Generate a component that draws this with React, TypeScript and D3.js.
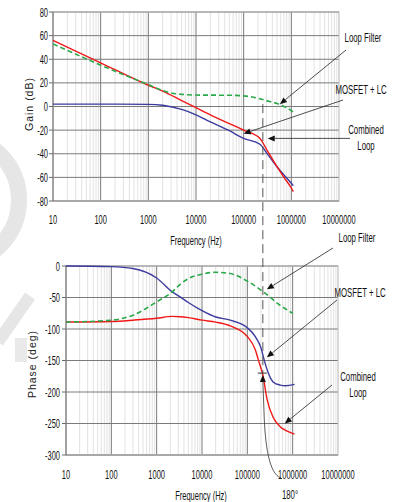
import React from "react";
import * as d3 from "d3";

// ---------- data ----------
const gainFreq = [10, 100, 1000, 2000, 5000, 1e4, 2e4, 5e4, 1e5, 2.2e5, 3e5, 5e5, 7e5, 1e6, 1.1e6];
const gainCombined = [56, 37, 18, 13, 5, -1, -7, -14.5, -20, -27, -36, -51, -60, -69, -72];
const gainMosfet = [2, 2, 1.8, 1, -2.5, -7, -13, -20.5, -27, -32, -39, -51, -58, -65, -67];
const gainFilterFreq = [10, 100, 1000, 2000, 3000, 5000, 1e4, 5e4, 1e5, 2e5, 3e5, 5e5, 7e5, 1e6, 1.2e6];
const gainFilter = [53, 35, 18.5, 13.5, 11.5, 10.3, 9.7, 9.5, 9, 7, 5, 2.5, 0, -3.5, -6];

const phaseFreq = [10, 100, 300, 1000, 2200, 3300, 5000, 1e4, 2e4, 4.2e4, 1e5, 1.5e5, 1.75e5, 2.2e5, 2.75e5, 3.7e5, 5.3e5, 7e5, 1.1e6];
const phaseCombined = [-89, -88, -86, -83, -80, -80.5, -82, -86, -89, -95, -112, -133, -149, -173, -213, -240, -255, -261, -267];
const phaseMosfetFreq = [10, 100, 300, 1000, 2200, 3300, 5000, 1e4, 2e4, 4.2e4, 1e5, 1.5e5, 2e5, 2.35e5, 2.9e5, 3.7e5, 5.3e5, 7e5, 1.1e6];
const phaseMosfet = [0, -1, -4, -19, -41, -49, -58, -71, -81, -86, -98, -112, -130, -149, -170, -184, -189, -190, -188];
const phaseFilterFreq = [10, 100, 300, 1000, 2200, 3300, 5000, 1e4, 2e4, 4.2e4, 1e5, 2.45e5, 5.2e5, 1e6];
const phaseFilter = [-89, -86, -78, -57, -41, -29, -20, -13, -10, -12, -24, -43, -62, -75];

const xTickValues = [10, 100, 1000, 10000, 100000, 1000000, 10000000];
const gainTicks = [80, 60, 40, 20, 0, -20, -40, -60, -80];
const phaseTicks = [0, -50, -100, -150, -200, -250, -300];

const crossFreq = 2.2e5;
const crossPhase = -170;
const crossGain = 2;

// ---------- layout ----------
const W = 396;
const H = 502;
const FONT = "'Liberation Sans', Arial, sans-serif";
const SX = 0.6;

const xTop = d3.scaleLog().domain([10, 1e7]).range([53, 339]);
const yTop = d3.scaleLinear().domain([-80, 80]).range([201, 12]);
const xBot = d3.scaleLog().domain([10, 1e7]).range([66, 338]);
const yBot = d3.scaleLinear().domain([-300, 0]).range([455, 266]);

const minorFreqs: number[] = [];
for (let d = 10; d < 1e7; d *= 10) for (let k = 2; k <= 9; k++) minorFreqs.push(k * d);

const RED = "#f01818";
const BLUE = "#3b3b9e";
const GREEN = "#2aa84a";

function T({ x, y, children, anchor = "middle", size = 12.5 }: any) {
  return (
    <text
      transform={`translate(${x},${y}) scale(${SX},1)`}
      textAnchor={anchor}
      fontFamily={FONT}
      fontSize={size}
      fill="#111"
    >
      {children}
    </text>
  );
}

function Arrow({ x1, y1, x2, y2 }: any) {
  const ang = Math.atan2(y2 - y1, x2 - x1);
  const L = 7, Wd = 3;
  const bx = x2 - L * Math.cos(ang), by = y2 - L * Math.sin(ang);
  const px = -Math.sin(ang) * Wd, py = Math.cos(ang) * Wd;
  return (
    <g>
      <line x1={x1} y1={y1} x2={bx} y2={by} stroke="#222" strokeWidth={0.8} />
      <path d={`M${x2},${y2}L${bx + px},${by + py}L${bx - px},${by - py}Z`} fill="#111" />
    </g>
  );
}

function Panel({ x, y, yTicks, tickLabelRight, freqLabelY, freqLabelX }: any) {
  const [x0, x1] = x.range();
  const [yb, yt] = y.range();
  return (
    <g>
      {minorFreqs.map((f) => (
        <line key={"m" + f} x1={x(f)} x2={x(f)} y1={yt} y2={yb} stroke="#dadada" strokeWidth={0.8} />
      ))}
      {xTickValues.slice(1, -1).map((f) => (
        <line key={"M" + f} x1={x(f)} x2={x(f)} y1={yt} y2={yb} stroke="#7a7a7a" strokeWidth={1} />
      ))}
      {yTicks.map((v: number) => (
        <line key={"h" + v} x1={x0} x2={x1} y1={y(v)} y2={y(v)} stroke="#7a7a7a" strokeWidth={1} />
      ))}
      <rect x={x0} y={yt} width={x1 - x0} height={yb - yt} fill="none" stroke="#b4b4b4" strokeWidth={1} />
      <line x1={x0} x2={x1} y1={yb} y2={yb} stroke="#a8a8a8" strokeWidth={2} />
      <line x1={x0} x2={x0} y1={yt} y2={yb} stroke="#6a6a6a" strokeWidth={1} />
      {yTicks.map((v: number) => (
        <g key={"t" + v}>
          <line x1={x0 - 4} x2={x0} y1={y(v)} y2={y(v)} stroke="#6a6a6a" />
          <T x={tickLabelRight} y={y(v) + 4.5} anchor="end">{String(v)}</T>
        </g>
      ))}
      {xTickValues.map((f) => (
        <T key={"xl" + f} x={x(f)} y={freqLabelY}>{String(f)}</T>
      ))}
      <T x={freqLabelX} y={freqLabelY + 21}>Frequency (Hz)</T>
    </g>
  );
}

function curve(xs: number[], ys: number[], x: any, y: any) {
  const pts = xs.map((f, i) => [f, ys[i]] as [number, number]);
  return d3
    .line<[number, number]>()
    .x((d) => x(d[0]))
    .y((d) => y(d[1]))
    .curve(d3.curveMonotoneX)(pts) as string;
}

export default function App() {
  const xc = xBot(crossFreq);
  const yc = yBot(crossPhase);
  return (
    <svg width={W} height={H} style={{ position: "absolute", left: 0, top: 0, background: "#fff" }}>
      {/* watermark */}
      <g fill="none" stroke="#e6e6e6">
        <circle cx={-45} cy={200} r={64} strokeWidth={16} />
        <line x1={30} y1={296} x2={-2} y2={342} strokeWidth={12} />
      </g>
      <rect x={15} y={338} width={12} height={24} fill="#e9e9e9" />

      <Panel x={xTop} y={yTop} yTicks={gainTicks} tickLabelRight={48} freqLabelY={224} freqLabelX={196} />
      <Panel x={xBot} y={yBot} yTicks={phaseTicks} tickLabelRight={60} freqLabelY={479} freqLabelX={201} />

      <text transform="translate(33,104) rotate(-90)" textAnchor="middle" fontFamily={FONT} fontSize={10.5} letterSpacing={1} fill="#222">
        Gain (dB)
      </text>
      <text transform="translate(36,364) rotate(-90)" textAnchor="middle" fontFamily={FONT} fontSize={10.5} letterSpacing={1} fill="#222">
        Phase (deg)
      </text>

      {/* gain curves */}
      <path d={curve(gainFreq, gainMosfet, xTop, yTop)} fill="none" stroke={BLUE} strokeWidth={1.4} />
      <path d={curve(gainFreq, gainCombined, xTop, yTop)} fill="none" stroke={RED} strokeWidth={1.4} />
      <path d={curve(gainFilterFreq, gainFilter, xTop, yTop)} fill="none" stroke={GREEN} strokeWidth={1.6} strokeDasharray="5,3" />

      {/* phase curves */}
      <path d={curve(phaseMosfetFreq, phaseMosfet, xBot, yBot)} fill="none" stroke={BLUE} strokeWidth={1.4} />
      <path d={curve(phaseFreq, phaseCombined, xBot, yBot)} fill="none" stroke={RED} strokeWidth={1.4} />
      <path d={curve(phaseFilterFreq, phaseFilter, xBot, yBot)} fill="none" stroke={GREEN} strokeWidth={1.6} strokeDasharray="5,3" />

      {/* crossover dashed line */}
      <line x1={xc} x2={xc} y1={yTop(crossGain)} y2={yc} stroke="#555" strokeWidth={1} strokeDasharray="9,5" />
      <line x1={xc - 5} x2={xc + 4} y1={yc} y2={yc} stroke="#333" strokeWidth={1} />

      {/* top annotations */}
      <T x={363} y={42} size={13}>Loop Filter</T>
      <Arrow x1={346} y1={50} x2={xTop(5.75e5)} y2={yTop(2)} />
      <T x={361} y={94} size={13}>MOSFET + LC</T>
      <Arrow x1={343} y1={100} x2={xTop(1e5)} y2={yTop(-23)} />
      <T x={366} y={134} size={13}>Combined</T>
      <T x={366} y={150} size={13}>Loop</T>
      <Arrow x1={350} y1={yTop(-27)} x2={xTop(3.2e5)} y2={yTop(-27)} />

      {/* bottom annotations */}
      <T x={357} y={242} size={13}>Loop Filter</T>
      <Arrow x1={333} y1={248} x2={xBot(2.7e5)} y2={yBot(-37)} />
      <T x={360} y={297} size={13}>MOSFET + LC</T>
      <Arrow x1={337} y1={300} x2={xBot(2.7e5)} y2={yBot(-145)} />
      <T x={358} y={381} size={13}>Combined</T>
      <T x={358} y={397} size={13}>Loop</T>
      <Arrow x1={332} y1={385} x2={xBot(6.7e5)} y2={yBot(-250)} />

      {/* 180 deg curved arrow */}
      <path d={`M281,478 C269,474 265,445 264,412 L${xc},${yc + 8}`} fill="none" stroke="#333" strokeWidth={0.8} />
      <path d={`M${xc},${yc + 2}L${xc - 3},${yc + 9}L${xc + 3},${yc + 9}Z`} fill="#111" />
      <T x={290} y={499} size={13}>180°</T>
    </svg>
  );
}
